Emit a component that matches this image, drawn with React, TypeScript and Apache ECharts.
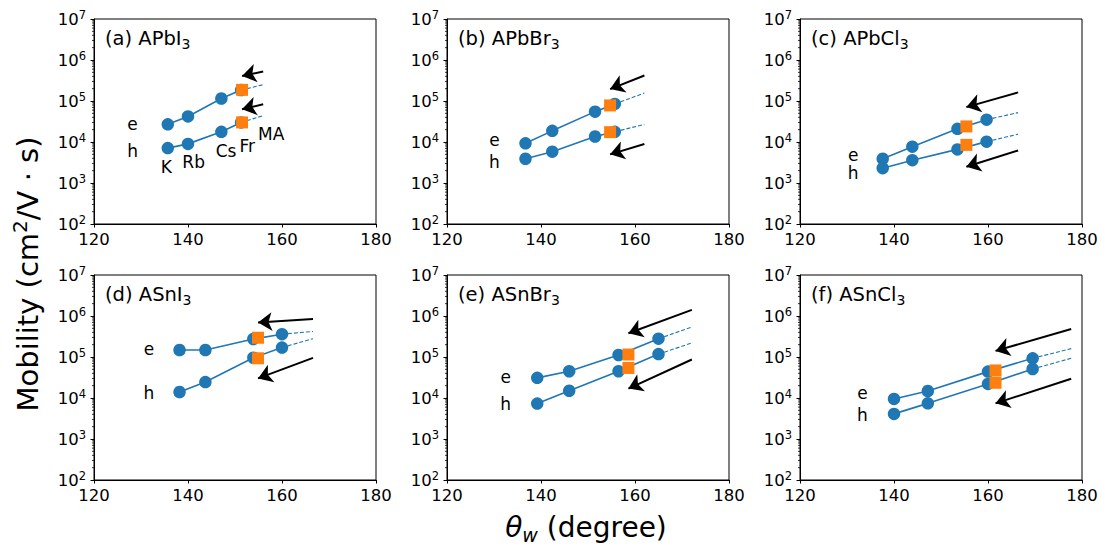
import React, { useEffect, useRef } from "react";
import * as echarts from "echarts";

// ---------- data ----------
const xTicks = [120, 140, 160, 180];
const yMin = 1e2;
const yMax = 1e7;
const minorMultipliers = [2, 3, 4, 5, 6, 7, 8, 9];
const minorDecades = [1e2, 1e3, 1e4, 1e5, 1e6];

const titles = ["(a) APbI", "(b) APbBr", "(c) APbCl", "(d) ASnI", "(e) ASnBr", "(f) ASnCl"];

// measured points (circles): x = theta_w, e = electron mobility, h = hole mobility
const xA = [135.7, 140.0, 147.1, 151.3];
const eA = [2.7e4, 4.2e4, 1.15e5, 1.85e5];
const hA = [7.1e3, 9.0e3, 1.77e4, 3.0e4];
const xB = [136.7, 142.4, 151.5, 155.7];
const eB = [9.3e3, 1.87e4, 5.5e4, 8.5e4];
const hB = [3.9e3, 5.8e3, 1.36e4, 1.77e4];
const xC = [137.6, 143.9, 153.5, 159.7];
const eC = [3.9e3, 7.7e3, 2.1e4, 3.5e4];
const hC = [2.3e3, 3.6e3, 6.6e3, 1.02e4];
const xD = [138.2, 143.7, 153.9, 160.0];
const eD = [1.48e5, 1.48e5, 2.75e5, 3.6e5];
const hD = [1.4e4, 2.45e4, 9.6e4, 1.7e5];
const xE = [139.2, 146.0, 156.5, 165.0];
const eE = [3.1e4, 4.5e4, 1.12e5, 2.8e5];
const hE = [7.3e3, 1.5e4, 4.5e4, 1.18e5];
const xF = [140.0, 147.2, 160.0, 169.5];
const eF = [9.5e3, 1.48e4, 4.4e4, 9.3e4];
const hF = [4.1e3, 7.4e3, 2.2e4, 5.1e4];

// orange squares: [x, e, h]
const sqA = [151.5, 1.87e5, 3.0e4];
const sqB = [154.7, 7.8e4, 1.74e4];
const sqC = [155.4, 2.4e4, 8.5e3];
const sqD = [154.9, 2.95e5, 9.3e4];
const sqE = [158.6, 1.15e5, 5.4e4];
const sqF = [161.6, 4.7e4, 2.35e4];

// dashed extrapolation end: [x, e, h]
const extA = [156.0, 2.5e5, 4.4e4];
const extB = [162.0, 1.56e5, 2.7e4];
const extC = [166.4, 5.2e4, 1.55e4];
const extD = [166.6, 4.2e5, 2.8e5];
const extE = [172.1, 5.4e5, 2.2e5];
const extF = [177.7, 1.6e5, 9.3e4];

// arrows: [tailX, tailY, headX, headY] for e then h
const arrA = [[156.0, 5.25e5, 151.5, 4.07e5], [156.0, 8.3e4, 151.5, 6.3e4]];
const arrB = [[162.0, 4.2e5, 154.7, 1.95e5], [162.0, 8.9e3, 154.7, 5.0e3]];
const arrC = [[166.4, 1.62e5, 155.4, 7.1e4], [166.4, 6.2e3, 155.4, 2.5e3]];
const arrD = [[166.6, 8.5e5, 154.9, 6.9e5], [166.6, 9.5e4, 154.9, 3.0e4]];
const arrE = [[172.1, 1.41e6, 158.6, 3.8e5], [172.1, 8.7e4, 158.6, 1.7e4]];
const arrF = [[177.7, 4.8e5, 161.6, 1.41e5], [177.7, 2.95e4, 161.6, 7.4e3]];

// text annotations: [text, x, y]
const lblA = [["e", 128.2, 2.75e4], ["h", 128.2, 5.9e3], ["K", 135.4, 2.45e3], ["Rb", 141.2, 3.3e3], ["Cs", 148.1, 6.2e3], ["Fr", 152.6, 8.2e3], ["MA", 157.7, 1.58e4]];
const lblB = [["e", 130.1, 1.1e4], ["h", 130.1, 3.2e3]];
const lblC = [["e", 131.3, 4.8e3], ["h", 131.3, 1.76e3]];
const lblD = [["e", 131.7, 1.55e5], ["h", 131.7, 1.3e4]];
const lblE = [["e", 132.5, 3.3e4], ["h", 132.5, 7.1e3]];
const lblF = [["e", 133.3, 1.29e4], ["h", 133.3, 3.8e3]];

const panels = [
  { x: xA, e: eA, h: hA, sq: sqA, ext: extA, arr: arrA, lbl: lblA },
  { x: xB, e: eB, h: hB, sq: sqB, ext: extB, arr: arrB, lbl: lblB },
  { x: xC, e: eC, h: hC, sq: sqC, ext: extC, arr: arrC, lbl: lblC },
  { x: xD, e: eD, h: hD, sq: sqD, ext: extD, arr: arrD, lbl: lblD },
  { x: xE, e: eE, h: hE, sq: sqE, ext: extE, arr: arrE, lbl: lblE },
  { x: xF, e: eF, h: hF, sq: sqF, ext: extF, arr: arrF, lbl: lblF },
];

// ---------- layout ----------
const FONT = "DejaVu Sans";
const BLUE = "#1f77b4";
const ORANGE = "#ff7f0e";
const gridLefts = [94, 447, 800];
const gridTops = [19, 275];
const GW = 282;
const GH = 205;

export default function App() {
  const ref = useRef<HTMLDivElement>(null);

  useEffect(() => {
    document.body.style.margin = "0";
    const chart = echarts.init(ref.current!, null, { renderer: "svg" });

    const grid: any[] = [];
    const xAxis: any[] = [];
    const yAxis: any[] = [];
    const series: any[] = [];
    const graphic: any[] = [];

    const minorVals: number[][] = [];
    minorDecades.forEach((d) => minorMultipliers.forEach((m) => minorVals.push([xTicks[0], m * d])));

    panels.forEach((p, i) => {
      const left = gridLefts[i % 3];
      const top = gridTops[Math.floor(i / 3)];
      grid.push({
        left, top, width: GW, height: GH,
        show: true, borderColor: "#000", borderWidth: 1, backgroundColor: "transparent",
      });
      xAxis.push({
        type: "value", gridIndex: i, min: 120, max: 180, interval: 20,
        axisLine: { show: true, onZero: false, lineStyle: { color: "#000", width: 1 } },
        axisTick: { show: true, length: 3.5, lineStyle: { color: "#000" } },
        axisLabel: { color: "#000", fontSize: 16.5, fontFamily: FONT, margin: 7 },
        splitLine: { show: false },
      });
      yAxis.push({
        type: "log", gridIndex: i, min: yMin, max: yMax, logBase: 10,
        axisLine: { show: true, lineStyle: { color: "#000", width: 1 } },
        axisTick: { show: true, length: 3.5, lineStyle: { color: "#000" } },
        axisLabel: {
          color: "#000", fontFamily: FONT, margin: 8,
          formatter: (v: number) => `{b|10}{s|${Math.round(Math.log10(v))}}`,
          rich: {
            b: { fontSize: 16.5, lineHeight: 20, fontFamily: FONT, color: "#000" },
            s: { fontSize: 11.5, lineHeight: 12, verticalAlign: "top", fontFamily: FONT, color: "#000" },
          },
        },
        splitLine: { show: false },
      });

      // minor ticks of the log axis
      series.push({
        type: "custom", xAxisIndex: i, yAxisIndex: i, clip: false, silent: true, z: 1,
        data: minorVals,
        renderItem: (_params: any, api: any) => {
          const pt = api.coord([api.value(0), api.value(1)]);
          return {
            type: "line",
            shape: { x1: pt[0] - 2, y1: pt[1], x2: pt[0], y2: pt[1] },
            style: { stroke: "#000", lineWidth: 0.8 },
          };
        },
      });

      const n = p.x.length;
      const eData = p.x.map((x, k) => [x, p.e[k]]);
      const hData = p.x.map((x, k) => [x, p.h[k]]);
      [eData, hData].forEach((d) => {
        series.push({
          type: "line", xAxisIndex: i, yAxisIndex: i, data: d, silent: true, z: 3,
          symbol: "circle", symbolSize: 12.5, showSymbol: true,
          itemStyle: { color: BLUE, opacity: 1 }, lineStyle: { color: BLUE, width: 1.6 },
        });
      });
      // dashed extensions
      [[p.x[n - 1], p.e[n - 1], p.ext[0], p.ext[1]], [p.x[n - 1], p.h[n - 1], p.ext[0], p.ext[2]]].forEach((s) => {
        series.push({
          type: "line", xAxisIndex: i, yAxisIndex: i, silent: true, z: 2,
          data: [[s[0], s[1]], [s[2], s[3]]], symbol: "none",
          lineStyle: { color: BLUE, width: 1.1, type: [4, 2] },
        });
      });
      // orange squares
      series.push({
        type: "scatter", xAxisIndex: i, yAxisIndex: i, silent: true, z: 4,
        data: [[p.sq[0], p.sq[1]], [p.sq[0], p.sq[2]]],
        symbol: "rect", symbolSize: 12, itemStyle: { color: ORANGE, opacity: 1 },
      });
      // arrows
      series.push({
        type: "lines", coordinateSystem: "cartesian2d", xAxisIndex: i, yAxisIndex: i, silent: true, z: 5,
        symbol: ["none", "arrow"], symbolSize: 14,
        lineStyle: { color: "#000", width: 2, opacity: 1 },
        itemStyle: { color: "#000", opacity: 1 },
        data: p.arr.map((a) => ({ coords: [[a[0], a[1]], [a[2], a[3]]] })),
      });
      // annotations
      series.push({
        type: "scatter", xAxisIndex: i, yAxisIndex: i, silent: true, z: 6,
        symbolSize: 0, itemStyle: { color: "#000", opacity: 1 },
        data: p.lbl.map((l) => ({ name: l[0], value: [l[1], l[2]] })),
        label: {
          show: true, position: "inside", formatter: (d: any) => d.name,
          color: "#000", opacity: 1, fontSize: 17, fontFamily: FONT, textBorderWidth: 0,
        },
      });

      graphic.push({
        type: "text", left: left + 11, top: top + 9, silent: true,
        style: {
          text: `{t|${titles[i]}}{s|3}`,
          rich: {
            t: { fontSize: 19.5, lineHeight: 25, fontFamily: FONT, fill: "#000" },
            s: { fontSize: 14, lineHeight: 14, verticalAlign: "bottom", fontFamily: FONT, fill: "#000" },
          },
        },
      });
    });

    graphic.push({
      type: "text", x: 28, y: 274, rotation: Math.PI / 2, silent: true,
      style: {
        text: "{a|Mobility (cm}{s|2}{a|/V · s)}",
        align: "center", verticalAlign: "middle",
        rich: {
          a: { fontSize: 29, lineHeight: 36, fontFamily: FONT, fill: "#000" },
          s: { fontSize: 20, lineHeight: 20, verticalAlign: "top", fontFamily: FONT, fill: "#000" },
        },
      },
    });
    graphic.push({
      type: "text", x: 586, y: 527, silent: true,
      style: {
        text: "{i|θ}{w|w}{a| (degree)}",
        align: "center", verticalAlign: "middle",
        rich: {
          i: { fontSize: 28, lineHeight: 34, fontStyle: "italic", fontFamily: FONT, fill: "#000" },
          w: { fontSize: 19, lineHeight: 19, fontStyle: "italic", verticalAlign: "bottom", fontFamily: FONT, fill: "#000" },
          a: { fontSize: 28, lineHeight: 34, fontFamily: FONT, fill: "#000" },
        },
      },
    });

    chart.setOption({
      animation: false,
      backgroundColor: "#fff",
      textStyle: { fontFamily: FONT },
      grid, xAxis, yAxis, series, graphic,
    });
    return () => chart.dispose();
  }, []);

  return <div ref={ref} style={{ width: 1105, height: 548 }} />;
}
